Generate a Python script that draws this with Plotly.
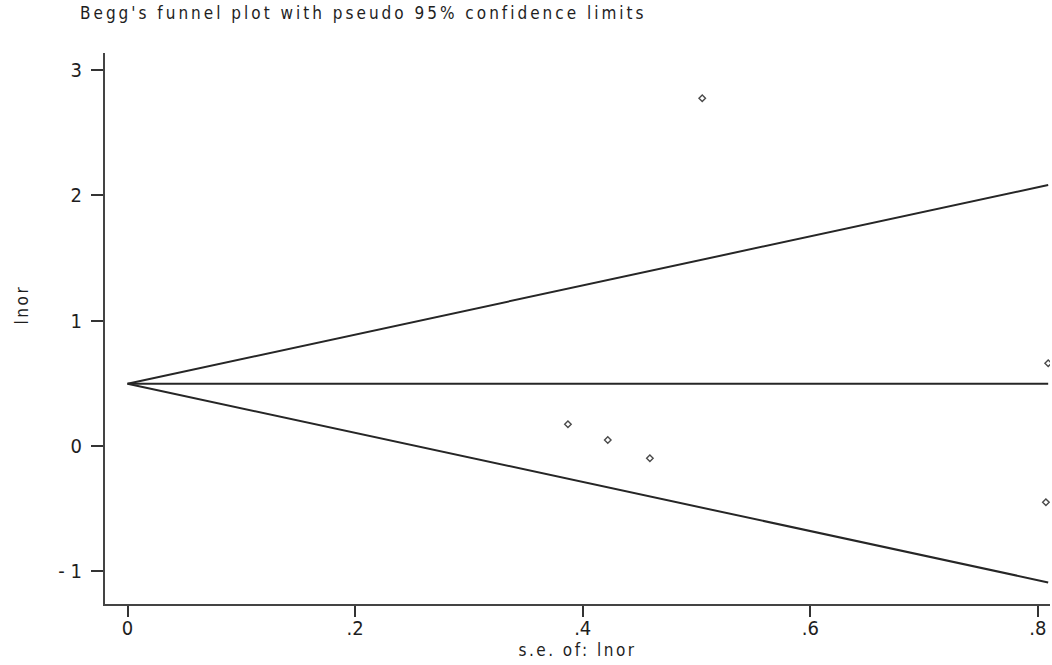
import plotly.graph_objects as go

# Study-level estimates: standard error and log odds ratio
se = [0.387, 0.422, 0.459, 0.505, 0.809, 0.807]
lnor = [0.173, 0.048, -0.098, 2.775, 0.660, -0.449]

# Pooled (fixed-effect) log odds ratio
theta = 0.497

x_tickvals = [0, 0.2, 0.4, 0.6, 0.8]
x_ticktext = ["0", ".2", ".4", ".6", ".8"]
y_tickvals = [-1, 0, 1, 2, 3]
y_ticktext = ["- 1", "0", "1", "2", "3"]

# Pseudo 95% confidence limits: theta +/- 1.96 * se, from se = 0 to max se
se_line = [0, max(se)]
upper = [theta + 1.96 * s for s in se_line]
lower = [theta - 1.96 * s for s in se_line]
center = [theta for _ in se_line]

FONT = "DejaVu Sans Condensed, Liberation Sans Narrow, Arial Narrow, sans-serif"
TEXT_COLOR = "#1e1e1e"
LINE_COLOR = "#262626"

fig = go.Figure()
for yy in (upper, center, lower):
    fig.add_trace(go.Scatter(
        x=se_line, y=yy, mode="lines",
        line=dict(color=LINE_COLOR, width=2),
        showlegend=False, hoverinfo="skip",
    ))

fig.add_trace(go.Scatter(
    x=se, y=lnor, mode="markers",
    marker=dict(symbol="diamond-open", size=5, color="#4a4a4a",
                line=dict(width=1.4, color="#4a4a4a")),
    showlegend=False,
))

fig.update_layout(
    width=1052, height=665,
    plot_bgcolor="white", paper_bgcolor="white",
    margin=dict(l=105, r=2, t=53, b=61),
    font=dict(family=FONT, color=TEXT_COLOR),
    title=dict(
        text="Begg's funnel plot with pseudo 95% confidence limits",
        x=80 / 1052, xref="container", xanchor="left",
        y=1 - 13 / 665, yref="container", yanchor="middle",
        font=dict(family=FONT, size=17, color=TEXT_COLOR),
    ),
    xaxis=dict(
        range=[-0.0198, 0.8106],
        tickvals=x_tickvals, ticktext=x_ticktext,
        ticks="outside", ticklen=11, tickwidth=1.5, tickcolor="#333333",
        showline=True, linecolor="#444444", linewidth=2,
        showgrid=False, zeroline=False,
        tickfont=dict(size=20, family=FONT, color=TEXT_COLOR),
        ticklabelstandoff=-6,
        title=dict(text="s.e. of: lnor", font=dict(size=17, family=FONT, color=TEXT_COLOR),
                   standoff=0),
    ),
    yaxis=dict(
        range=[-1.261, 3.136],
        tickvals=y_tickvals, ticktext=y_ticktext,
        ticks="outside", ticklen=12, tickwidth=1.5, tickcolor="#333333",
        showline=True, linecolor="#444444", linewidth=2,
        showgrid=False, zeroline=False,
        tickfont=dict(size=20, family=FONT, color=TEXT_COLOR),
        ticklabelstandoff=5,
    ),
)

# Vertical axis title placed alongside the upper half of the axis
fig.add_annotation(
    text="lnor", xref="paper", yref="y", x=-83 / 945, y=1.13,
    xanchor="center", yanchor="middle", textangle=-90, showarrow=False,
    font=dict(size=17, family=FONT, color=TEXT_COLOR),
)

# Wide letter spacing for the title and axis titles
spacing_js = """
var gd = document.getElementById('{plot_id}');
function widen() {
  gd.querySelectorAll('.gtitle').forEach(function (e) { e.style.letterSpacing = '3px'; });
  gd.querySelectorAll('.xtitle, .annotation-text').forEach(function (e) { e.style.letterSpacing = '2.5px'; });
}
widen();
gd.on('plotly_afterplot', widen);
"""

fig.write_html("out.html", post_script=spacing_js)
